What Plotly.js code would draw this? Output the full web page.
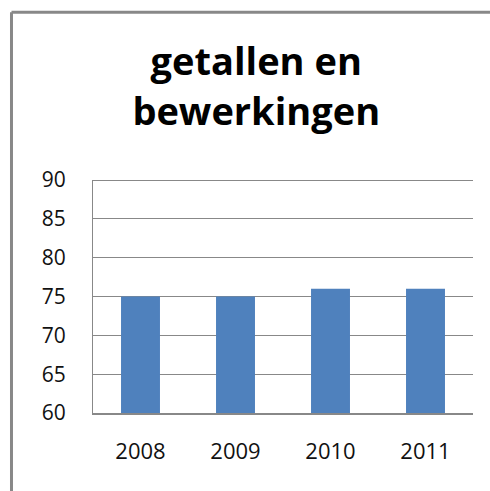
<!DOCTYPE html>
<html><head><meta charset="utf-8">
<script src="https://cdn.plot.ly/plotly-3.0.1.min.js"></script>
<style>html,body{margin:0;padding:0;background:#fff}#c{width:490px;height:491px}</style>
</head><body><div id="c"></div>
<script>
var categories = ["2008", "2009", "2010", "2011"];
var values = [75, 75, 76, 76];
var yTicks = [60, 65, 70, 75, 80, 85, 90];

var data = [{
  type: "bar",
  x: categories,
  y: values,
  marker: {color: "#4F81BD"},
  hoverinfo: "none"
}];

var layout = {
  width: 490, height: 491,
  margin: {l: 93, r: 17, t: 180, b: 78},
  paper_bgcolor: "#fff", plot_bgcolor: "#fff",
  showlegend: false,
  bargap: 0.59,
  title: {
    text: "getallen en<br>bewerkingen",
    font: {family: "Open Sans, Liberation Sans, sans-serif", size: 38, color: "#000", weight: "bold"},
    x: 0.523, xanchor: "center", xref: "container",
    y: 0.847, yanchor: "top", yref: "container"
  },
  xaxis: {
    type: "category",
    showgrid: false,
    showline: true, linecolor: "#888", linewidth: 2,
    ticks: "", ticklabelstandoff: 18,
    tickfont: {family: "Open Sans, Liberation Sans, sans-serif", size: 22, color: "#111"},
    fixedrange: true
  },
  yaxis: {
    range: [60, 90],
    tickvals: yTicks,
    ticktext: yTicks.map(String),
    showgrid: true, gridcolor: "#888", gridwidth: 1,
    showline: true, linecolor: "#888", linewidth: 1, mirror: false,
    zeroline: false,
    ticks: "", ticklabelstandoff: 22,
    tickfont: {family: "Open Sans, Liberation Sans, sans-serif", size: 21, color: "#111"},
    fixedrange: true
  },
  shapes: [
    {type: "line", xref: "paper", yref: "paper", x0: -0.2145, x1: -0.2145, y0: -0.6, y1: 1.72, line: {color: "#888", width: 3}},
    {type: "line", xref: "paper", yref: "paper", x0: -0.2145, x1: 1.0447, y0: 1.72, y1: 1.72, line: {color: "#888", width: 3}},
    {type: "line", xref: "paper", yref: "y", x0: 0, x1: 1, y0: 90, y1: 90, line: {color: "#888", width: 2}, layer: "below"}
  ]
};

Plotly.newPlot("c", data, layout, {displayModeBar: false, staticPlot: true});
</script></body></html>
